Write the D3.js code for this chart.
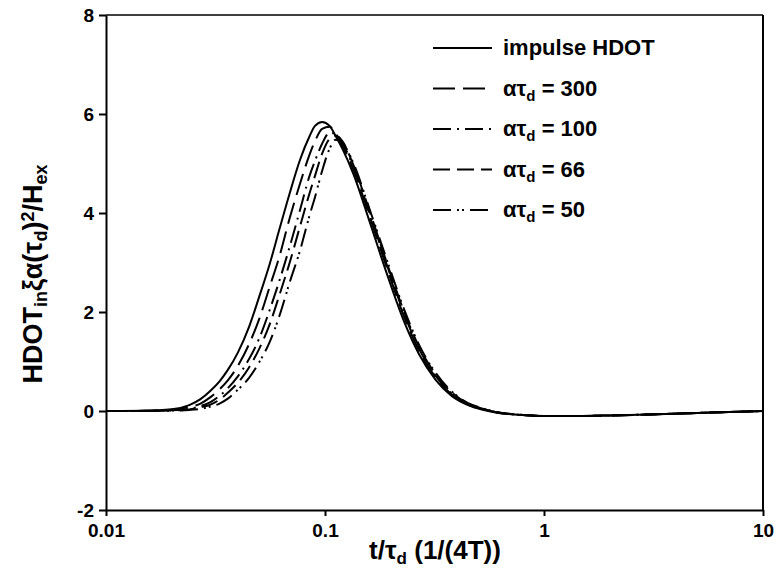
<!DOCTYPE html>
<html>
<head>
<meta charset="utf-8">
<script src="https://cdn.jsdelivr.net/npm/d3@7"></script>
<style>
  body { margin: 0; background: #fff; }
  text { font-family: "Liberation Sans", Arial, sans-serif; font-weight: bold; }
</style>
</head>
<body>
<script>
// Time grid (t/tau_d) shared by all curves
var tGrid = [0.01, 0.015, 0.02, 0.024, 0.027, 0.03, 0.033, 0.036, 0.04, 0.045, 0.05, 0.056, 0.062, 0.069, 0.077, 0.085, 0.09, 0.097, 0.105, 0.112, 0.12, 0.135, 0.16, 0.19, 0.23, 0.27, 0.32, 0.38, 0.45, 0.52, 0.6, 0.8, 1, 1.5, 2, 3, 5, 7, 10];

// Curve values
var impulse = [0, 0.005, 0.035, 0.12, 0.24, 0.41, 0.6, 0.83, 1.18, 1.7, 2.3, 2.98, 3.68, 4.4, 5.08, 5.55, 5.76, 5.84, 5.76, 5.55, 5.3, 4.78, 3.82, 2.82, 1.8, 1.13, 0.63, 0.3, 0.12, 0.03, -0.03, -0.08, -0.1, -0.1, -0.09, -0.07, -0.04, -0.02, 0];
var at300 = [0, 0.004, 0.025, 0.08, 0.15, 0.28, 0.44, 0.62, 0.91, 1.35, 1.85, 2.52, 3.13, 3.9, 4.6, 5.18, 5.45, 5.7, 5.74, 5.6, 5.36, 4.87, 3.93, 2.94, 1.9, 1.2, 0.68, 0.33, 0.13, 0.04, -0.02, -0.08, -0.1, -0.1, -0.09, -0.07, -0.04, -0.02, 0];
var at100 = [0, 0.003, 0.015, 0.045, 0.1, 0.18, 0.31, 0.46, 0.7, 1.05, 1.46, 2.05, 2.64, 3.32, 4.07, 4.75, 5.05, 5.4, 5.62, 5.6, 5.42, 4.92, 3.99, 3.0, 1.96, 1.24, 0.71, 0.35, 0.14, 0.05, -0.02, -0.08, -0.1, -0.1, -0.09, -0.07, -0.04, -0.02, 0];
var at66 = [0, 0.002, 0.012, 0.032, 0.075, 0.13, 0.23, 0.37, 0.57, 0.88, 1.25, 1.76, 2.35, 3.0, 3.74, 4.4, 4.75, 5.2, 5.5, 5.56, 5.45, 4.96, 4.03, 3.04, 2.0, 1.28, 0.74, 0.37, 0.15, 0.05, -0.02, -0.08, -0.1, -0.1, -0.09, -0.07, -0.04, -0.02, 0];
var at50 = [0, 0.001, 0.008, 0.022, 0.045, 0.09, 0.15, 0.25, 0.43, 0.67, 0.98, 1.4, 1.93, 2.6, 3.25, 3.95, 4.32, 4.85, 5.3, 5.48, 5.42, 5.0, 4.07, 3.1, 2.05, 1.32, 0.77, 0.39, 0.16, 0.06, -0.02, -0.08, -0.1, -0.1, -0.09, -0.07, -0.04, -0.02, 0];

// Axis ticks
var xTicks = [0.01, 0.1, 1, 10];
var yTicks = [-2, 0, 2, 4, 6, 8];

// Series: label number, values, dash pattern
var seriesNames = ['impulse', '300', '100', '66', '50'];
var seriesValues = [impulse, at300, at100, at66, at50];
var seriesDash = [null, '22,8', '18,6,2,6', '17,7', '18,6,2,3,2,6'];

var width = 776, height = 571;
var plotLeft = 106, plotRight = 763, plotTop = 15, plotBottom = 510;

var svg = d3.select('body').append('svg')
    .attr('width', width)
    .attr('height', height);

var x = d3.scaleLog().domain([0.01, 10]).range([plotLeft, plotRight]);
var y = d3.scaleLinear().domain([-2, 8]).range([plotBottom, plotTop]);

// Curves
var line = d3.line()
    .x(function(d){ return x(d[0]); })
    .y(function(d){ return y(d[1]); })
    .curve(d3.curveMonotoneX);

seriesValues.forEach(function(vals, i){
    var pts = tGrid.map(function(t, j){ return [t, vals[j]]; });
    svg.append('path')
        .datum(pts)
        .attr('d', line)
        .attr('fill', 'none')
        .attr('stroke', '#000')
        .attr('stroke-width', 2)
        .attr('stroke-dasharray', seriesDash[i]);
});

// Frame: top and right lines
svg.append('line')
    .attr('x1', plotLeft).attr('x2', plotRight).attr('y1', plotTop).attr('y2', plotTop)
    .attr('stroke', '#000').attr('stroke-width', 1.5);
svg.append('line')
    .attr('x1', plotRight).attr('x2', plotRight).attr('y1', plotTop).attr('y2', plotBottom)
    .attr('stroke', '#000').attr('stroke-width', 2);

// Axes (hyphen for negatives, like the original)
var xAxis = svg.append('g')
    .attr('transform', 'translate(0,' + plotBottom + ')')
    .call(d3.axisBottom(x).tickValues(xTicks).tickSize(6).tickSizeOuter(0)
        .tickFormat(function(d){ return String(d); }));
var yAxis = svg.append('g')
    .attr('transform', 'translate(' + plotLeft + ',0)')
    .call(d3.axisLeft(y).tickValues(yTicks).tickSize(7).tickSizeOuter(0)
        .tickFormat(function(d){ return String(d); }));

[xAxis, yAxis].forEach(function(g){
    g.select('.domain').attr('stroke-width', 2);
    g.selectAll('.tick line').attr('stroke-width', 2);
    g.selectAll('.tick text').attr('font-size', 19).attr('font-family', null).attr('fill', '#000');
});
xAxis.selectAll('.tick text').attr('dy', '0.95em');
yAxis.selectAll('.tick text').attr('x', -12);

// Axis titles
var xt = svg.append('text')
    .attr('x', 435)
    .attr('y', 559)
    .attr('text-anchor', 'middle')
    .attr('font-size', 26);
xt.append('tspan').text('t/\u03c4');
xt.append('tspan').attr('baseline-shift', '-30%').attr('font-size', 17).text('d');
xt.append('tspan').text(' (1/(4T))');

var yt = svg.append('text')
    .attr('transform', 'translate(42,274) rotate(-90)')
    .attr('text-anchor', 'middle')
    .attr('font-size', 27);
yt.append('tspan').text('HDOT');
yt.append('tspan').attr('baseline-shift', '-30%').attr('font-size', 18).text('in');
yt.append('tspan').text('\u03be\u03b1(\u03c4');
yt.append('tspan').attr('baseline-shift', '-30%').attr('font-size', 18).text('d');
yt.append('tspan').text(')');
yt.append('tspan').attr('baseline-shift', '45%').attr('font-size', 18).text('2');
yt.append('tspan').text('/H');
yt.append('tspan').attr('baseline-shift', '-30%').attr('font-size', 18).text('ex');

// Legend
var legY0 = 48, legStep = 40.5;
seriesNames.forEach(function(name, i){
    var ly = legY0 + i * legStep;
    svg.append('line')
        .attr('x1', 433).attr('x2', 492).attr('y1', ly).attr('y2', ly)
        .attr('stroke', '#000').attr('stroke-width', 2)
        .attr('stroke-dasharray', seriesDash[i]);
    var t = svg.append('text')
        .attr('x', 503).attr('y', ly + 7)
        .attr('font-size', 22);
    if (name === 'impulse') {
        t.text('impulse HDOT');
    } else {
        t.append('tspan').text('\u03b1\u03c4');
        t.append('tspan').attr('baseline-shift', '-30%').attr('font-size', 15).text('d');
        t.append('tspan').text(' = ' + name);
    }
});
</script>
</body>
</html>
